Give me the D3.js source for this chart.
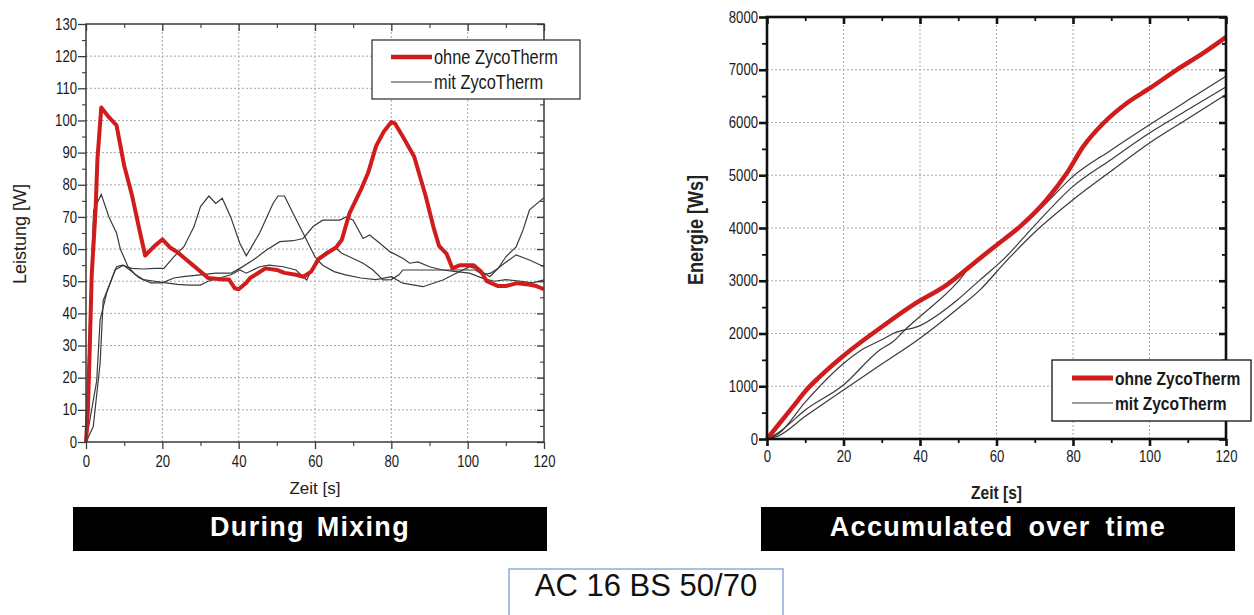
<!DOCTYPE html>
<html>
<head>
<meta charset="utf-8">
<script src="https://cdn.jsdelivr.net/npm/d3@7"></script>
<style>
  body { margin: 0; background: #fff; }
  .narrow { font-family: "Liberation Sans Narrow", "Arial Narrow", "Liberation Sans", Arial, sans-serif; }
  .sans { font-family: "Liberation Sans", Arial, sans-serif; }
</style>
</head>
<body>
<svg id="chart" width="1254" height="615"></svg>
<script>

// left chart: Leistung [W] over Zeit [s]
var ohneT = [0,0.5,1,1.5,2,2.5,3,4,6,8,10,12,14,15.5,18,20,22,24,26,28,30,32,34,36,37.5,39,40,42,43,45,47,50,52,55,57,59,61,63.5,65.5,67,69,72,74,76,78,80,81,83,86,89,91,92.5,94.5,96,98,100,101.5,103.5,105,108,110,113,116,118,120];
var ohneV = [0,10,30,52,62,72,88,104,101,98.5,86,77,66,58,61,63,60.5,59,57,55,53,51,50.8,50.5,50.5,47.8,47.5,49.5,51,52.5,54,53.5,52.6,52,51.4,53,57,59,60.5,62.8,71,78.4,84,92,96.5,99.5,99,95,88.7,76.5,67,61,58.5,54,55,55,55,53,50,48.5,48.5,49.4,49,48.5,47.5];

var mit1T = [0,1,2,4,6,8,9,11,13,15,18,21,24,27,30,32,35,38,40.3,42,45.5,48,51.7,55,57.8,60.4,63,65.6,67,69,72.6,75.2,77.8,80,82,83,102,104,106,108,110,112.7,114.5,116.2,120];
var mit1V = [0,40,72,77,70,65,60,54.5,52,50.5,50,49.5,49,48.8,48.8,50,51,52,53.5,52.5,54.5,55,54.5,53.5,50.4,56.6,59.2,60.2,58.7,57.6,55.6,53.5,50.4,50.5,52,53.5,53.5,52,52.5,54,57.6,60.7,65.9,72.2,76];

var mit2T = [0,1.9,3.7,4.5,6.3,8,9.5,12,15,18,20.4,23,25.7,28.3,30,32.2,34,35.7,37.9,40.3,42,45.5,49,50.3,52,54.3,56.9,59.1,60,62,65,68,72,76,80,83,88.3,93.5,97,100.5,103.1,105.8,108.4,112.7,116.2,120];
var mit2V = [0,4.8,24.5,44,49.4,54.5,55,54,53.8,54,54,57.6,60.8,67,73.2,76.5,74.2,75.8,70,61.8,57.9,65,74.2,76.5,76.5,71,64.9,59.7,57.6,55,53,52,51,50.5,51.4,49.4,48.3,50.4,52.5,54.5,53.5,51.4,54.5,58.2,56.6,54.5];

var mit3T = [0,2.8,3.7,5.4,7.6,9.8,12,14,17,20,23,26,30,34,38,40.3,43.8,47.3,50.8,54.3,56.9,59.5,62,66.5,68.2,70,72.6,74.3,77,79.6,83.1,84.8,87,90,93.5,97,100.5,104,107,110,114,117,120];
var mit3V = [0,19,38,46.3,53.5,55,53,51,49.5,49.5,51,51.5,52,52.5,52.5,54,56.6,59.7,62.3,62.6,63.3,67,69,69,70,69,63.3,64.4,61.8,59.2,57.1,55.6,56,54.5,53.5,53,52.5,50.9,50,50.5,50,49.5,50.4];

// right chart: Energie [Ws] over Zeit [s]
var eOhneT = [0,3.3,6.8,10.3,13.8,20.8,29.5,38.2,47,55.7,60,66.2,73.1,78.4,82.7,88,94.1,100.2,107.2,114.1,120];
var eOhneV = [0,298,613,930,1182,1626,2100,2543,2922,3428,3675,4030,4535,5042,5547,5990,6370,6655,7003,7320,7620];

var eMit1T = [0,3.3,10,20,29.5,33,36.5,40,49.6,53.9,57,62,66,72,80,90,100,110,120];
var eMit1V = [0,139,550,1025,1689,1850,2100,2321,2954,3333,3500,3780,4030,4400,4979,5480,5958,6420,6876];

var eMit2T = [0,3,10,20,25,30,33,40,50,55.7,62,70,80,90,100,110,120];
var eMit2V = [0,100,700,1430,1700,1880,2000,2150,2650,3017,3420,4050,4789,5300,5800,6240,6675];

var eMit3T = [0,3,10,20,30,40,50,55.7,62,70,80,90,100,110,120];
var eMit3V = [0,60,430,930,1420,1911,2480,2827,3330,3920,4535,5080,5611,6070,6530];

var xTicks = [0,20,40,60,80,100,120];
var xMinor = [10,30,50,70,90,110];
var yTicksL = d3.range(0, 131, 10);
var yMinorL = d3.range(5, 130, 10);
var yTicksR = d3.range(0, 8001, 1000);
var yMinorR = d3.range(500, 8000, 1000);

var legendLabels = ["ohne ZycoTherm", "mit ZycoTherm"];
var redColor = "#d01c1c";

var svg = d3.select("#chart");

function zip(ts, vs) {
  return ts.map(function(t, i) { return [t, vs[i]]; });
}

var drawPanel = function(o) {
  var g = svg.append("g");
  var x = o.x, y = o.y;
  var x0 = x.range()[0], x1 = x.range()[1];
  var y0 = y.range()[0], y1 = y.range()[1];

  // dotted grid
  g.selectAll(".gx").data(xTicks.slice(1, -1)).enter().append("line")
    .attr("x1", function(d) { return x(d); }).attr("x2", function(d) { return x(d); })
    .attr("y1", y0).attr("y2", y1)
    .attr("stroke", "#a8a8a8").attr("stroke-dasharray", "2,2").attr("stroke-width", 1);
  g.selectAll(".gy").data(o.yTicks.slice(1, -1)).enter().append("line")
    .attr("y1", function(d) { return y(d); }).attr("y2", function(d) { return y(d); })
    .attr("x1", x0).attr("x2", x1)
    .attr("stroke", "#a8a8a8").attr("stroke-dasharray", "2,2").attr("stroke-width", 1);

  function ax(axis, tx, ty, labels, width) {
    var a = g.append("g").attr("transform", "translate(" + tx + "," + ty + ")").call(axis);
    a.select(".domain").remove();
    a.selectAll("line").attr("stroke", o.color).attr("stroke-width", width);
    if (!labels) a.selectAll("text").remove();
    else a.selectAll("text").attr("class", "narrow").attr("font-size", o.tickFont)
      .attr("font-weight", o.tickWeight).attr("fill", "#1a1a1a");
    return a;
  }
  ax(d3.axisBottom(x).tickValues(xTicks).tickSize(7).tickPadding(o.xPad).tickFormat(d3.format("d")), 0, y0, true, o.majW);
  ax(d3.axisBottom(x).tickValues(xMinor).tickSize(4).tickFormat(""), 0, y0, false, o.minW);
  ax(d3.axisTop(x).tickValues(xTicks).tickSize(-7).tickFormat(""), 0, y1, false, o.majW);
  ax(d3.axisTop(x).tickValues(xMinor).tickSize(-4).tickFormat(""), 0, y1, false, o.minW);
  ax(d3.axisLeft(y).tickValues(o.yTicks).tickSize(8).tickPadding(1).tickFormat(d3.format("d")), x0, 0, true, o.majW);
  ax(d3.axisLeft(y).tickValues(o.yMinor).tickSize(o.minLen).tickFormat(""), x0, 0, false, o.minW);
  ax(d3.axisRight(y).tickValues(o.yTicks).tickSize(-7).tickFormat(""), x1, 0, false, o.majW);
  ax(d3.axisRight(y).tickValues(o.yMinor).tickSize(-4).tickFormat(""), x1, 0, false, o.minW);

  // series
  var line = d3.line().x(function(d) { return x(d[0]); }).y(function(d) { return y(d[1]); }).curve(o.curve);
  o.mit.forEach(function(s) {
    g.append("path").datum(s).attr("d", line).attr("fill", "none")
      .attr("stroke", "#3a3a3a").attr("stroke-width", 1.2);
  });
  g.append("path").datum(o.ohne).attr("d", line).attr("fill", "none")
    .attr("stroke", redColor).attr("stroke-width", o.redW).attr("stroke-linejoin", "round");

  // frame
  g.append("rect").attr("x", x0).attr("y", y1).attr("width", x1 - x0).attr("height", y0 - y1)
    .attr("fill", "none").attr("stroke", o.color).attr("stroke-width", o.frameW);

  // legend
  var L = o.legend;
  var lg = g.append("g").attr("transform", "translate(" + L.x + "," + L.y + ")");
  lg.append("rect").attr("width", L.w).attr("height", L.h).attr("fill", "#fff")
    .attr("stroke", o.color).attr("stroke-width", 1.3);
  legendLabels.forEach(function(lab, i) {
    var ly = L.row0 + i * L.step;
    lg.append("line").attr("x1", L.lx).attr("x2", L.lx + 41).attr("y1", ly).attr("y2", ly)
      .attr("stroke", i === 0 ? redColor : "#3a3a3a").attr("stroke-width", i === 0 ? o.redW + 0.5 : 1.2);
    lg.append("text").attr("class", "narrow").attr("x", L.lx + 43).attr("y", ly).attr("dy", "0.36em")
      .attr("font-size", L.font).attr("font-weight", o.titleWeight).attr("fill", "#1a1a1a").text(lab);
  });

  // axis titles
  g.append("text").attr("class", o.titleClass).attr("x", (x0 + x1) / 2).attr("y", o.xTitleY)
    .attr("text-anchor", "middle").attr("font-size", o.titleFont).attr("font-weight", o.titleWeight)
    .attr("fill", "#222").text("Zeit [s]");
  g.append("text").attr("class", o.titleClass)
    .attr("transform", "translate(" + o.yTitleX + "," + o.yTitleY + ") rotate(-90)")
    .attr("text-anchor", "middle").attr("dy", "0.35em").attr("font-size", o.yTitleFont)
    .attr("font-weight", o.titleWeight).attr("fill", "#222").text(o.yTitle);

  // caption banner
  g.append("rect").attr("x", o.banner[0]).attr("y", 507).attr("width", o.banner[1] - o.banner[0])
    .attr("height", 44).attr("fill", "#000");
  g.append("text").attr("class", "sans").attr("x", (o.banner[0] + o.banner[1]) / 2).attr("y", 536)
    .attr("text-anchor", "middle").attr("font-size", 27).attr("font-weight", "bold")
    .attr("letter-spacing", "1.3px").attr("word-spacing", o.wordSp).attr("fill", "#fff").text(o.caption);
};

drawPanel({
  x: d3.scaleLinear().domain([0, 120]).range([86, 544]),
  y: d3.scaleLinear().domain([0, 130]).range([442, 24]),
  yTicks: yTicksL, yMinor: yMinorL,
  color: "#3a3a3a", frameW: 1.5, majW: 1.3, minW: 1.1, minLen: 4,
  tickFont: 16, tickWeight: "normal", xPad: 7,
  ohne: zip(ohneT, ohneV),
  mit: [zip(mit1T, mit1V), zip(mit2T, mit2V), zip(mit3T, mit3V)],
  curve: d3.curveLinear, redW: 4,
  legend: { x: 372, y: 40, w: 208, h: 59, lx: 19, row0: 17, step: 25, font: 20 },
  titleClass: "sans", titleFont: 17, yTitleFont: 18, titleWeight: "normal",
  xTitleY: 494, yTitleX: 20, yTitleY: 234, yTitle: "Leistung [W]",
  banner: [73, 547], caption: "During Mixing", wordSp: "3px"
});

drawPanel({
  x: d3.scaleLinear().domain([0, 120]).range([767, 1226]),
  y: d3.scaleLinear().domain([0, 8000]).range([439, 17]),
  yTicks: yTicksR, yMinor: yMinorR,
  color: "#111", frameW: 2.6, majW: 2.6, minW: 1.8, minLen: 5,
  tickFont: 16, tickWeight: "normal", xPad: 5,
  ohne: zip(eOhneT, eOhneV),
  mit: [zip(eMit1T, eMit1V), zip(eMit2T, eMit2V), zip(eMit3T, eMit3V)],
  curve: d3.curveMonotoneX, redW: 4.5,
  legend: { x: 1052, y: 360, w: 199, h: 61, lx: 20, row0: 18, step: 25, font: 19 },
  titleClass: "narrow", titleFont: 19, yTitleFont: 22, titleWeight: "bold",
  xTitleY: 499, yTitleX: 695, yTitleY: 230, yTitle: "Energie [Ws]",
  banner: [761, 1235], caption: "Accumulated over time", wordSp: "6px"
});

// the narrow face is not installed: squeeze the regular one along its own baseline
svg.selectAll("text.narrow").each(function() {
  var t = d3.select(this);
  var ax = +t.attr("x") || 0;
  var tr = t.attr("transform") || "";
  t.attr("transform", tr + " translate(" + ax + ",0) scale(0.82,1) translate(" + (-ax) + ",0)");
});

// sample label
svg.append("rect").attr("x", 509).attr("y", 569).attr("width", 274).attr("height", 60)
  .attr("fill", "#fff").attr("stroke", "#8eaadb").attr("stroke-width", 1.5);
svg.append("text").attr("class", "sans").attr("x", 646).attr("y", 596).attr("text-anchor", "middle")
  .attr("font-size", 31).attr("fill", "#111").text("AC 16 BS 50/70");

</script>
</body>
</html>
